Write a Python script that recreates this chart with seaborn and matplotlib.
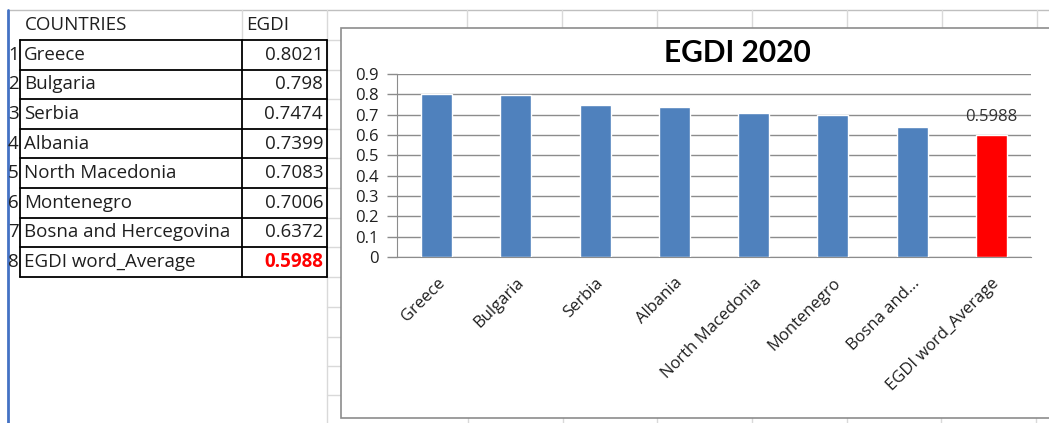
import matplotlib
matplotlib.use("Agg")
import numpy as np
import matplotlib.pyplot as plt
import seaborn as sns
from matplotlib.patches import Rectangle

# Data from the sheet
countries = ["Greece", "Bulgaria", "Serbia", "Albania", "North Macedonia",
             "Montenegro", "Bosna and Hercegovina", "EGDI word_Average"]
axis_labels = ["Greece", "Bulgaria", "Serbia", "Albania", "North Macedonia",
               "Montenegro", "Bosna and...", "EGDI word_Average"]
egdi = [0.8021, 0.798, 0.7474, 0.7399, 0.7083, 0.7006, 0.6372, 0.5988]
y_ticks = [0, 0.1, 0.2, 0.3, 0.4, 0.5, 0.6, 0.7, 0.8, 0.9]

blue = "#4F81BD"
red = "#FF0000"
palette = {lab: (red if i == len(axis_labels) - 1 else blue) for i, lab in enumerate(axis_labels)}

sns.set_style("white")
plt.rcParams["font.family"] = ["Open Sans", "DejaVu Sans"]

W, H = 1049, 423
fig = plt.figure(figsize=(W / 100, H / 100), dpi=100)

# background axes in pixel coordinates for the spreadsheet part
bg = fig.add_axes([0, 0, 1, 1])
bg.set_xlim(0, W)
bg.set_ylim(H, 0)
bg.axis("off")

grid_c = "#D9D9D9"
txt_c = "#1F1F1F"
# spreadsheet gridlines
bg.plot([8, W], [10, 10], color="#BFBFBF", lw=1)
for x in [467, 562, 657, 752, 847, 942, 1037]:
    bg.plot([x, x], [10, 28], color=grid_c, lw=1)
for x in [468, 563, 657, 752, 847, 941, 1036]:
    bg.plot([x, x], [418, H], color=grid_c, lw=1)
row_y = [40 + 29.6 * i for i in range(9)]
for y in row_y:
    bg.plot([327, 341], [y, y], color=grid_c, lw=1)
for y in [307, 337, 366, 395]:
    bg.plot([327, 341], [y, y], color=grid_c, lw=1)
bg.plot([327, 327], [10, H], color=grid_c, lw=1)
bg.plot([242, 242], [10, 40], color=grid_c, lw=1)
bg.plot([8, 8], [10, H], color="#4472C4", lw=2)

# header
bg.text(25, 25, "COUNTRIES", fontsize=13.5, va="center", ha="left", color=txt_c)
bg.text(246, 25, "EGDI", fontsize=13.5, va="center", ha="left", color=txt_c)

# table rows
for i, (name, val) in enumerate(zip(countries, egdi)):
    yc = (row_y[i] + row_y[i + 1]) / 2
    bg.text(8, yc, str(i + 1), fontsize=13.5, va="center", ha="left", color=txt_c)
    bg.text(24, yc, name, fontsize=13.5, va="center", ha="left", color=txt_c)
    last = i == len(countries) - 1
    bg.text(323, yc, str(val), fontsize=13.5, va="center", ha="right",
            color=red if last else txt_c, fontweight="bold" if last else "normal")
for y in row_y:
    bg.plot([20, 327], [y, y], color="black", lw=1.3)
for x in [20, 242, 327]:
    bg.plot([x, x], [row_y[0], row_y[-1]], color="black", lw=1.3)

# chart area
bg.add_patch(Rectangle((341, 28), W - 341 + 5, 390, facecolor="white",
                       edgecolor="#8C8C8C", lw=1.2, zorder=3))
bg.text(737, 53, "EGDI 2020", fontsize=21.5, fontweight="bold", ha="center",
        va="center", color="black", zorder=4, family=["Lato", "DejaVu Sans"])

ax = fig.add_axes([397 / W, (H - 257) / H, (1031 - 397) / W, (257 - 74) / H], zorder=5)
ax.patch.set_alpha(0)
sns.barplot(x=axis_labels, y=egdi, hue=axis_labels, palette=palette, legend=False,
            width=0.39, saturation=1, ax=ax, zorder=3)
ax.set_ylim(0, 0.9)
ax.set_xlim(-0.5, len(axis_labels) - 0.5)
ax.set_yticks(y_ticks)
ax.set_yticklabels(["0" if v == 0 else f"{v:.1f}" for v in y_ticks], fontsize=12, color=txt_c)
ax.yaxis.grid(True, color="#8C8C8C", lw=1)
ax.set_axisbelow(True)
ax.set_xticks(np.arange(len(axis_labels)))
ax.set_xticklabels(axis_labels, rotation=45, ha="right", rotation_mode="anchor",
                   fontsize=12, color=txt_c)
ax.set_xticks(np.arange(-0.5, len(axis_labels)), minor=True)
ax.tick_params(axis="x", which="major", length=0, pad=13)
ax.tick_params(axis="x", which="minor", length=7, color="#8C8C8C", width=1)
ax.tick_params(axis="y", length=7, color="#8C8C8C", width=1, left=True, pad=6)
for s in ["top", "right"]:
    ax.spines[s].set_visible(False)
ax.spines["left"].set_color("#8C8C8C")
ax.spines["bottom"].set_color("#8C8C8C")
ax.set_xlabel("")
ax.set_ylabel("")

# data label on the average bar
ax.text(len(egdi) - 1, egdi[-1] + 0.09, str(egdi[-1]), ha="center", va="center",
        fontsize=12, color="#333333")

fig.savefig("out.png", dpi=100)
